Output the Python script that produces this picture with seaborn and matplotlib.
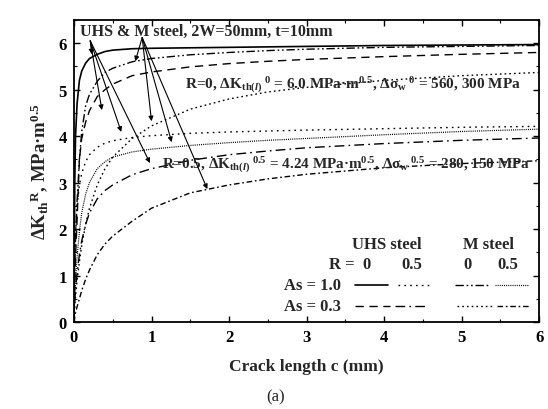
import numpy as np
import pandas as pd
import matplotlib
matplotlib.use("Agg")
import matplotlib.pyplot as plt
from matplotlib.ticker import MultipleLocator
import seaborn as sns

# ---------------- data ----------------
c = [0, 0.01, 0.02, 0.04, 0.07, 0.1, 0.15, 0.2, 0.3, 0.4, 0.5, 0.75, 1, 1.5, 2, 2.5, 3, 4, 5, 6]

uhs_r0_as10 = [0, 3.0, 4.0, 4.7, 5.2, 5.4, 5.57, 5.67, 5.76, 5.82, 5.85, 5.88, 5.89, 5.9, 5.91, 5.92, 5.93, 5.95, 5.96, 5.97]
uhs_r05_as10 = [0, 1.4, 1.9, 2.5, 2.95, 3.2, 3.45, 3.6, 3.76, 3.85, 3.9, 3.97, 4.01, 4.06, 4.09, 4.11, 4.13, 4.16, 4.19, 4.21]
m_r0_as10 = [0, 1.2, 1.8, 2.6, 3.5, 4.1, 4.65, 4.9, 5.18, 5.37, 5.46, 5.6, 5.67, 5.75, 5.8, 5.84, 5.87, 5.91, 5.93, 5.95]
m_r05_as10 = [0, 0.6, 0.9, 1.4, 1.95, 2.35, 2.75, 3.0, 3.3, 3.45, 3.55, 3.66, 3.72, 3.8, 3.86, 3.91, 3.95, 4.03, 4.1, 4.15]
uhs_r0_as03 = [0, 0.9, 1.4, 2.2, 3.5, 3.95, 4.3, 4.55, 4.85, 5.0, 5.12, 5.3, 5.38, 5.49, 5.56, 5.61, 5.65, 5.71, 5.76, 5.8]
uhs_r05_as03 = [0, 0.45, 0.7, 1.05, 1.45, 1.75, 2.1, 2.35, 2.65, 2.83, 2.95, 3.17, 3.3, 3.48, 3.6, 3.68, 3.75, 3.84, 3.91, 3.96]
m_r0_as03 = [0, 0.35, 0.55, 0.9, 1.3, 1.65, 2.1, 2.45, 2.95, 3.3, 3.55, 3.95, 4.22, 4.58, 4.8, 4.95, 5.05, 5.2, 5.3, 5.37]
m_r05_as03 = [0, 0.12, 0.2, 0.33, 0.5, 0.68, 0.92, 1.12, 1.45, 1.68, 1.85, 2.17, 2.45, 2.78, 2.95, 3.08, 3.18, 3.32, 3.41, 3.47]

x_ticks = [0, 1, 2, 3, 4, 5, 6]
y_ticks = [0, 1, 2, 3, 4, 5, 6]

# ---------------- styling ----------------
sns.set_theme(style="ticks")
plt.rcParams["font.family"] = ["Liberation Serif", "DejaVu Serif"]
plt.rcParams["font.weight"] = "bold"
plt.rcParams["mathtext.fontset"] = "custom"
plt.rcParams["mathtext.rm"] = "Liberation Serif:bold"
plt.rcParams["mathtext.it"] = "Liberation Serif:italic:bold"
plt.rcParams["mathtext.bf"] = "Liberation Serif:bold"
plt.rcParams["mathtext.default"] = "rm"

styles = {
    "uhs_r0_as10": dict(ls="-", lw=1.2),
    "uhs_r05_as10": dict(ls=(0, (1.2, 3.0)), lw=1.0),
    "m_r0_as10": dict(ls=(0, (6, 2, 1.2, 2, 1.2, 2)), lw=1.0),
    "m_r05_as10": dict(ls=(0, (0.8, 0.9)), lw=0.9),
    "uhs_r0_as03": dict(ls=(0, (6, 4)), lw=1.0),
    "uhs_r05_as03": dict(ls=(0, (7, 3, 1.2, 3)), lw=1.0),
    "m_r0_as03": dict(ls=(0, (1.2, 2.2)), lw=1.0),
    "m_r05_as03": dict(ls=(0, (4, 2, 1.2, 2)), lw=1.0),
}
series = {
    "uhs_r0_as10": uhs_r0_as10,
    "uhs_r05_as10": uhs_r05_as10,
    "m_r0_as10": m_r0_as10,
    "m_r05_as10": m_r05_as10,
    "uhs_r0_as03": uhs_r0_as03,
    "uhs_r05_as03": uhs_r05_as03,
    "m_r0_as03": m_r0_as03,
    "m_r05_as03": m_r05_as03,
}

fig = plt.figure(figsize=(5.48, 4.10), dpi=100)
ax = fig.add_axes([0.135, 0.212, 0.849, 0.737])

for name, vals in series.items():
    df = pd.DataFrame({"c": c, "K": vals})
    st = styles[name]
    sns.lineplot(data=df, x="c", y="K", ax=ax, color="black", linestyle=st["ls"],
                 linewidth=st["lw"], estimator=None, sort=False)

ax.set_xlim(0, 6)
ax.set_ylim(0, 6.5)
ax.set_xticks(x_ticks)
ax.set_yticks(y_ticks)
ax.xaxis.set_minor_locator(MultipleLocator(0.5))
ax.yaxis.set_minor_locator(MultipleLocator(0.5))
ax.tick_params(which="both", direction="in", top=True, right=True, colors="black")
ax.tick_params(which="major", length=4, width=1.0, labelsize=12, pad=5)
ax.tick_params(which="minor", length=2, width=0.8)
for lab in ax.get_xticklabels() + ax.get_yticklabels():
    lab.set_fontweight("bold")
for sp in ax.spines.values():
    sp.set_linewidth(1.3)
    sp.set_color("black")

ax.set_xlabel("Crack length c (mm)", fontsize=12.5, fontweight="bold", labelpad=9)
ax.set_ylabel(r"ΔK$_{\mathrm{th}}$$^{\mathrm{R}}$, MPa·m$^{0.5}$", fontsize=13.5,
              fontweight="bold", labelpad=6)
fig.text(0.502, 0.03, "(a)", ha="center", va="center", fontsize=12, fontweight="normal")

# annotations
ax.text(0.08, 6.26, "UHS & M steel, 2W=50mm, t=10mm", fontsize=11.5, fontweight="bold",
        ha="left", va="center")
ax.text(1.43, 5.12, r"R=0, ΔK$_{\mathrm{th}(\mathit{l})}$$^{\ 0}$ = 6.0 MPa·m$^{0.5}$, Δσ$_{\mathrm{w}}$$^{\ 0}$ = 560, 300 MPa",
        fontsize=11, fontweight="bold", ha="left", va="center")
ax.text(1.13, 3.4, r"R=0.5, ΔK$_{\mathrm{th}(\mathit{l})}$$^{\ 0.5}$ = 4.24 MPa·m$^{0.5}$, Δσ$_{\mathrm{w}}$$^{\ 0.5}$ = 280, 150 MPa",
        fontsize=10.9, fontweight="bold", ha="left", va="center")

arrow_kw = dict(arrowstyle="-|>", lw=0.8, color="black", shrinkA=0, shrinkB=0,
                mutation_scale=7)
g1_origin = (0.21, 6.05)
g1_tips = [(0.23, 5.76), (0.36, 4.56), (0.61, 4.09), (0.98, 3.42)]
g2_origin = (0.88, 6.12)
g2_tips = [(0.79, 5.61), (1.0, 4.32), (1.26, 3.87), (1.72, 2.86)]
for tip in g1_tips:
    ax.annotate("", xy=tip, xytext=g1_origin, arrowprops=arrow_kw)
for tip in g2_tips:
    ax.annotate("", xy=tip, xytext=g2_origin, arrowprops=arrow_kw)

# legend table
lt = dict(fontsize=12, fontweight="bold", ha="center", va="center")
ax.text(4.03, 1.68, "UHS steel", **lt)
ax.text(5.34, 1.68, "M steel", **lt)
ax.text(3.45, 1.25, "R =", **lt)
ax.text(3.77, 1.25, "0", **lt)
ax.text(4.36, 1.25, "0.5", **lt)
ax.text(5.08, 1.25, "0", **lt)
ax.text(5.6, 1.25, "0.5", **lt)
ax.text(3.08, 0.8, "As = 1.0", **lt)
ax.text(3.08, 0.34, "As = 0.3", **lt)

key_rows = {
    0.8: [("uhs_r0_as10", 3.63, 4.05), ("uhs_r05_as10", 4.18, 4.59),
          ("m_r0_as10", 4.92, 5.34), ("m_r05_as10", 5.43, 5.85)],
    0.34: [("uhs_r0_as03", 3.63, 4.08), ("uhs_r05_as03", 4.14, 4.53),
           ("m_r0_as03", 4.94, 5.41), ("m_r05_as03", 5.46, 5.88)],
}
for yk, items in key_rows.items():
    for name, x0, x1 in items:
        st = styles[name]
        ax.plot([x0, x1], [yk, yk], color="black", linestyle=st["ls"], linewidth=st["lw"])

fig.savefig("out.png", dpi=100)
